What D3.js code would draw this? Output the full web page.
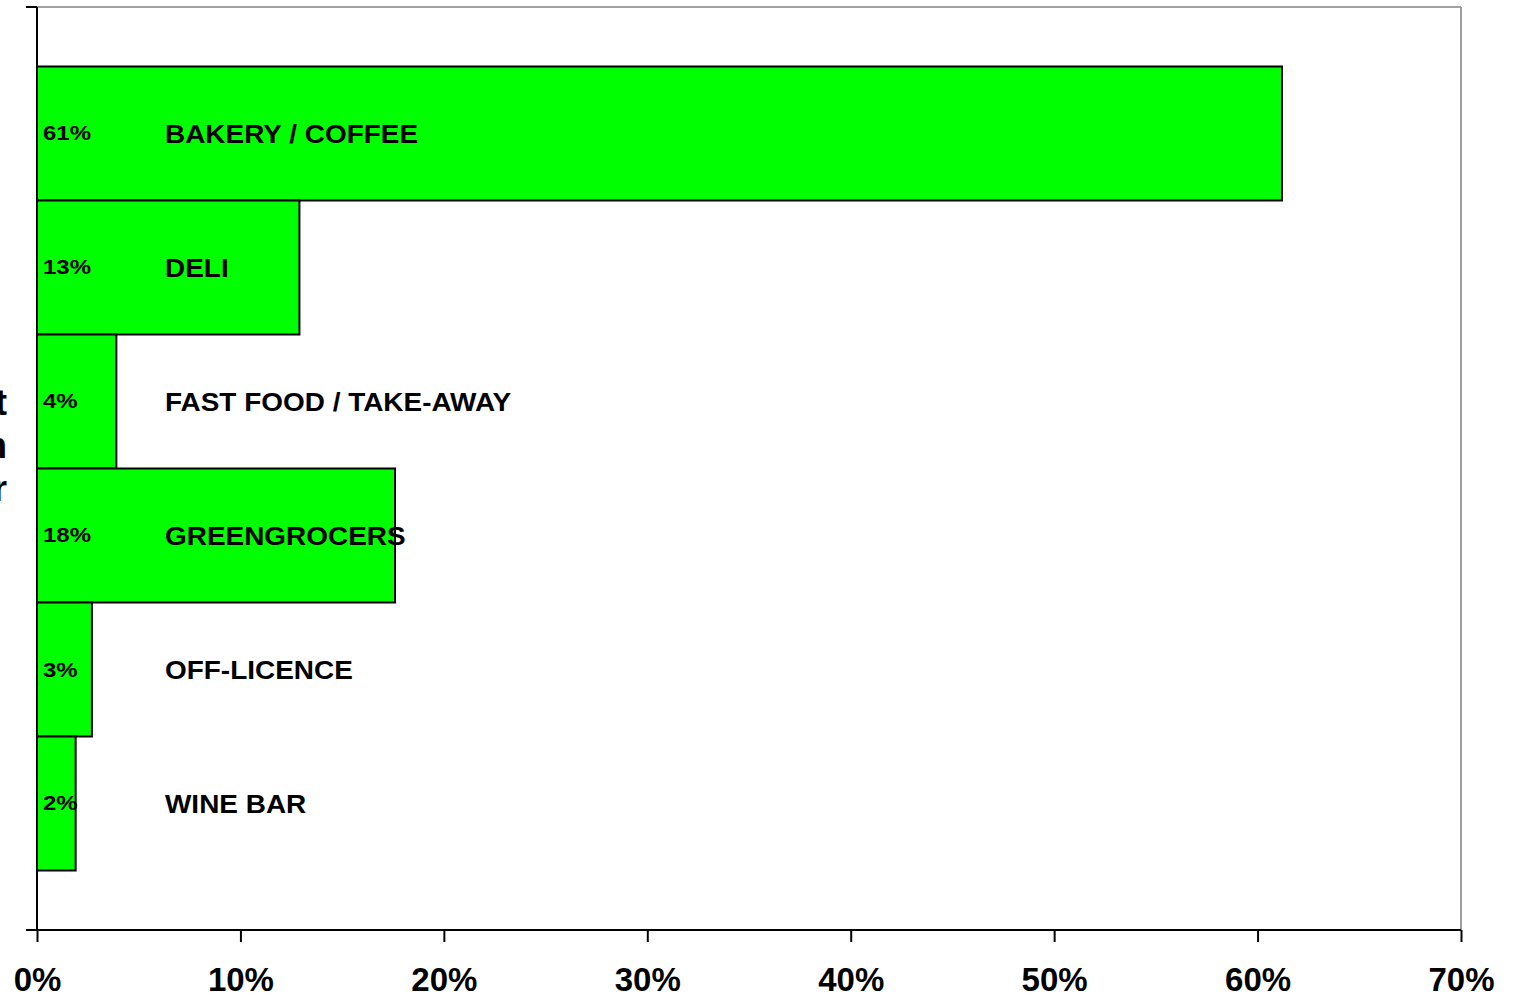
<!DOCTYPE html>
<html><head><meta charset="utf-8">
<script src="https://cdn.jsdelivr.net/npm/d3@7/dist/d3.min.js"></script>
<style>html,body{margin:0;padding:0;background:#fff;}svg{display:block;font-family:Arial,"Liberation Sans",sans-serif;}</style>
</head><body>
<svg id="c" width="1515" height="999"></svg>
<script>
const categories = ["BAKERY / COFFEE","DELI","FAST FOOD / TAKE-AWAY","GREENGROCERS","OFF-LICENCE","WINE BAR"];
const values = [0.612, 0.129, 0.039, 0.176, 0.027, 0.019];
const valueLabels = ["61%","13%","4%","18%","3%","2%"];
const xTicks = [0,0.1,0.2,0.3,0.4,0.5,0.6,0.7];
const yTitleLines = ["Outlet","Location","Sector"];

const svg = d3.select("#c");
const L = 37, R = 1461, T = 7, B = 930;
const x = d3.scaleLinear().domain([0,0.7]).range([L,R]);
const y = d3.scaleBand().domain(categories).range([T,B]).paddingInner(0).paddingOuter(0.444);

// frame (top and right, gray)
svg.append("line").attr("x1",L).attr("x2",R).attr("y1",T).attr("y2",T).attr("stroke","#a0a0a0").attr("stroke-width",2);
svg.append("line").attr("x1",R).attr("x2",R).attr("y1",T).attr("y2",B).attr("stroke","#a0a0a0").attr("stroke-width",2);

// bars
svg.selectAll("rect.bar").data(categories).enter().append("rect")
  .attr("class","bar")
  .attr("x",x(0)).attr("y",d=>y(d))
  .attr("width",(d,i)=>x(values[i])-x(0)).attr("height",y.bandwidth())
  .attr("fill","#00ff00").attr("stroke","#000").attr("stroke-width",2);

// value labels
svg.selectAll("text.val").data(categories).enter().append("text")
  .attr("class","val")
  .attr("x",43).attr("y",d=>y(d)+y.bandwidth()/2+7)
  .attr("font-size",20).attr("font-weight","bold").attr("fill","#000")
  .attr("transform",`translate(43,0) scale(1.2,1) translate(-43,0)`)
  .text((d,i)=>valueLabels[i]);

// category labels
svg.selectAll("text.cat").data(categories).enter().append("text")
  .attr("class","cat")
  .attr("x",165).attr("y",d=>y(d)+y.bandwidth()/2+10)
  .attr("font-size",26).attr("font-weight","bold").attr("fill","#000")
  .attr("transform",`translate(165,0) scale(1.075,1) translate(-165,0)`)
  .text(d=>d);

// x axis
const xa = svg.append("g").attr("transform",`translate(0,${B})`)
  .call(d3.axisBottom(x).tickValues(xTicks).tickFormat(d3.format(".0%")).tickSize(12).tickSizeOuter(0));
xa.select(".domain").remove();
xa.selectAll(".tick line").attr("stroke","#000").attr("stroke-width",2);
xa.selectAll(".tick text").attr("font-size",33).attr("font-weight","bold").attr("fill","#000")
  .attr("font-family","Arial, 'Liberation Sans', sans-serif").attr("dy",0).attr("y",61);
svg.append("line").attr("x1",26).attr("x2",R).attr("y1",B).attr("y2",B).attr("stroke","#000").attr("stroke-width",2);

// y axis line and end ticks
svg.append("line").attr("x1",L).attr("x2",L).attr("y1",T).attr("y2",B).attr("stroke","#000").attr("stroke-width",2);
svg.append("line").attr("x1",26).attr("x2",L).attr("y1",T).attr("y2",T).attr("stroke","#000").attr("stroke-width",2);

// y axis title (cut off at left edge, as in the reference)
svg.append("text").attr("text-anchor","end").attr("font-size",36).attr("font-weight","bold").attr("fill","#000")
  .selectAll("tspan").data(yTitleLines).enter().append("tspan")
  .attr("x",7).attr("y",(d,i)=>415+i*43).text(d=>d);
</script>
</body></html>
